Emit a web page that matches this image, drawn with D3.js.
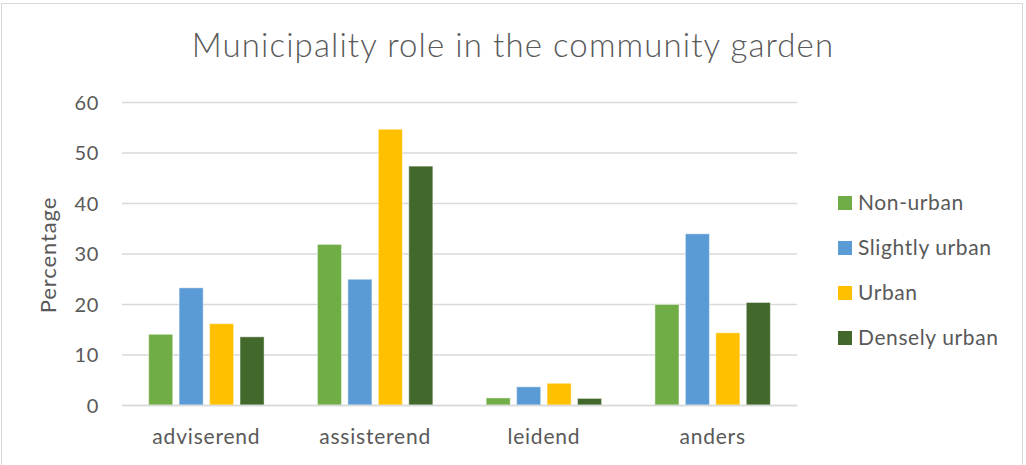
<!DOCTYPE html>
<html>
<head>
<meta charset="utf-8">
<script src="https://cdn.jsdelivr.net/npm/d3@7"></script>
<style>
  html, body { margin: 0; padding: 0; background: #fff; }
  svg { display: block; }
  text { font-family: Lato, "Liberation Sans", sans-serif; fill: #595959; }
</style>
</head>
<body>
<svg id="chart" width="1026" height="465"></svg>
<script>
// Roles of the municipality, per degree of urbanisation (percentages)
const categories = ["adviserend", "assisterend", "leidend", "anders"];
const seriesNames = ["Non-urban", "Slightly urban", "Urban", "Densely urban"];
const nonUrban      = [14.0, 31.8, 1.4, 19.9];
const slightlyUrban = [23.2, 24.9, 3.6, 33.9];
const urban         = [16.1, 54.6, 4.3, 14.3];
const denselyUrban  = [13.5, 47.3, 1.3, 20.3];
const yTicks = [0, 10, 20, 30, 40, 50, 60];
const colors = ["#70AD47", "#5B9BD5", "#FFC000", "#43682B"];

const seriesValues = [nonUrban, slightlyUrban, urban, denselyUrban];
const rows = categories.map((c, i) => ({
  category: c,
  values: seriesNames.map((s, j) => ({ series: s, value: seriesValues[j][i] }))
}));

const svg = d3.select("#chart");

// outer frame
svg.append("rect")
  .attr("x", 1.5).attr("y", 3.5).attr("width", 1021).attr("height", 470)
  .attr("fill", "none").attr("stroke", "#d9d9d9").attr("stroke-width", 1);

const plot = { left: 122, right: 797, top: 102, bottom: 405 };

const y = d3.scaleLinear().domain([0, 60]).range([plot.bottom, plot.top]);
const x0 = d3.scaleBand().domain(categories).range([plot.left, plot.right]).padding(0);
const inset = x0.bandwidth() * 0.158;
const x1 = d3.scaleBand().domain(seriesNames)
  .range([inset, x0.bandwidth() - inset]).paddingInner(0.21).paddingOuter(0);
const color = d3.scaleOrdinal().domain(seriesNames).range(colors);

// gridlines and value labels
const yAxis = d3.axisLeft(y).tickValues(yTicks)
  .tickSize(-(plot.right - plot.left)).tickPadding(23).tickFormat(d3.format("d"));
const gy = svg.append("g").attr("transform", `translate(${plot.left},0)`).call(yAxis);
gy.select(".domain").remove();
gy.selectAll(".tick line").attr("stroke", "#d9d9d9").attr("stroke-width", 1.3);
gy.selectAll(".tick text").style("font-size", "20px").style("letter-spacing", "0.6px")
  .attr("fill", "#595959").attr("dy", "0.35em");

// bars
const groups = svg.append("g").selectAll("g").data(rows).join("g")
  .attr("transform", d => `translate(${x0(d.category)},0)`);
groups.selectAll("rect").data(d => d.values).join("rect")
  .attr("x", d => x1(d.series))
  .attr("y", d => y(d.value))
  .attr("width", x1.bandwidth())
  .attr("height", d => y(0) - y(d.value))
  .attr("fill", d => color(d.series))
  .attr("stroke", "#ffffff").attr("stroke-opacity", 0.45).attr("stroke-width", 1);

// category axis
const xAxis = d3.axisBottom(x0).tickSize(0).tickPadding(0);
const gx = svg.append("g").attr("transform", `translate(0,${plot.bottom})`).call(xAxis);
gx.select(".domain").attr("stroke", "#d9d9d9").attr("stroke-width", 1.3);
gx.selectAll(".tick text").style("font-size", "21px").style("letter-spacing", "0.8px")
  .attr("fill", "#595959").attr("y", 39).attr("dy", 0);

// title
svg.append("text")
  .attr("x", 513).attr("y", 57)
  .attr("text-anchor", "middle")
  .style("font-size", "33px").style("font-weight", 300).style("letter-spacing", "1.1px")
  .text("Municipality role in the community garden");

// y-axis title
svg.append("text")
  .attr("transform", "translate(56,255) rotate(-90)")
  .attr("text-anchor", "middle")
  .style("font-size", "22px").style("letter-spacing", "0.9px")
  .text("Percentage");

// legend
const legend = svg.append("g").selectAll("g").data(seriesNames).join("g")
  .attr("transform", (d, i) => `translate(838,${203 + i * 45})`);
legend.append("rect")
  .attr("x", 0).attr("y", -7).attr("width", 14).attr("height", 14)
  .attr("fill", d => color(d));
legend.append("text")
  .attr("x", 20).attr("y", 0).attr("dy", "0.35em")
  .style("font-size", "21px").style("letter-spacing", "0.6px")
  .text(d => d);
</script>
</body>
</html>
